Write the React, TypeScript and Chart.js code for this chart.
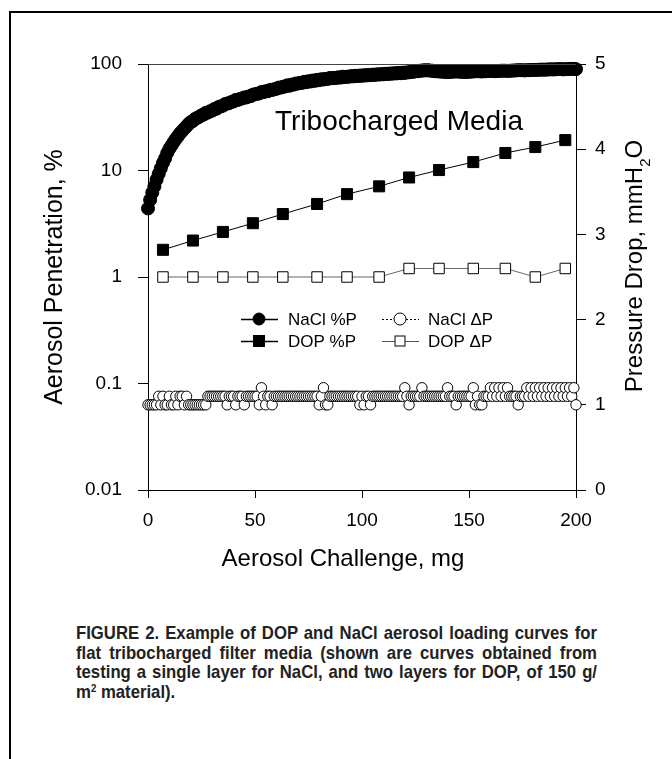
import React, { useEffect, useRef } from "react";
import { Chart, registerables } from "chart.js";

Chart.register(...registerables);

// ---------- DATA ----------
const naclMass = [
  0, 1, 2, 3, 4, 5, 6, 7, 8, 9,
  10, 11, 12, 13, 14, 15, 16, 17, 18, 19,
  20, 21, 22, 23, 24, 25, 26, 27, 28, 29,
  30, 31, 32, 33, 34, 35, 36, 37, 38, 39,
  40, 41, 42, 43, 44, 45, 46, 47, 48, 49,
  50, 51, 52, 53, 54, 55, 56, 57, 58, 59,
  60, 61, 62, 63, 64, 65, 66, 67, 68, 69,
  70, 71, 72, 73, 74, 75, 76, 77, 78, 79,
  80, 81, 82, 83, 84, 85, 86, 87, 88, 89,
  90, 91, 92, 93, 94, 95, 96, 97, 98, 99,
  100, 101, 102, 103, 104, 105, 106, 107, 108, 109,
  110, 111, 112, 113, 114, 115, 116, 117, 118, 119,
  120, 121, 122, 123, 124, 125, 126, 127, 128, 129,
  130, 131, 132, 133, 134, 135, 136, 137, 138, 139,
  140, 141, 142, 143, 144, 145, 146, 147, 148, 149,
  150, 151, 152, 153, 154, 155, 156, 157, 158, 159,
  160, 161, 162, 163, 164, 165, 166, 167, 168, 169,
  170, 171, 172, 173, 174, 175, 176, 177, 178, 179,
  180, 181, 182, 183, 184, 185, 186, 187, 188, 189,
  190, 191, 192, 193, 194, 195, 196, 197, 198, 199,
  200,
];

const naclPenetration = [
  4.4, 5.3, 6.2, 7.1, 8.2, 9.3, 10.5, 11.8, 13, 14.6,
  16, 17.2, 18.5, 19.8, 21, 22.4, 23.5, 24.8, 26, 27.4,
  28.5, 29.2, 30.5, 31.2, 32, 33, 33.5, 34.8, 35, 36,
  36.5, 37.8, 38, 39.5, 40, 40.6, 42, 42.5, 43, 44,
  44.5, 46, 46, 47, 47.5, 48.5, 48.5, 49.5, 50, 51.5,
  52, 52.5, 53, 54.5, 54.5, 55.5, 55.5, 57, 57, 58,
  58.5, 60, 60, 61, 61.5, 63, 62.5, 64, 64, 65.5,
  65.5, 66.5, 66.5, 68, 67.5, 69, 68.5, 70, 69.5, 71,
  70.5, 72, 71.5, 72.5, 72.5, 74, 73.5, 74, 74, 75,
  74.5, 76, 75.5, 76, 76, 77, 76.5, 77.5, 77, 78,
  77.5, 78.5, 78, 79, 78.5, 79.5, 79, 80, 79.5, 80.5,
  80, 81, 80.5, 81.5, 81, 82, 81.5, 82.5, 82, 83,
  82.5, 83.5, 83.5, 84.5, 84.5, 85.5, 85.5, 86.5, 86.5, 87.5,
  87, 87.5, 86.5, 86.5, 85.5, 85.5, 85, 85, 84.5, 84.5,
  84, 84.5, 84.5, 85, 85, 85, 84.5, 84.5, 84, 84.5,
  84.5, 85, 85, 85.5, 85.5, 85.5, 85, 85.5, 85.5, 86,
  86, 86, 85.5, 86, 86, 86.5, 86.5, 86.5, 86, 86.5,
  86.5, 87, 87, 87.5, 87.5, 87.5, 87, 87.5, 87.5, 88,
  88, 88, 88, 88.5, 88.5, 88.5, 88.5, 89, 89, 89,
  89, 89.5, 89.5, 89.5, 89, 89.5, 89.5, 90, 90, 90,
  89.5,
];

const naclPressureDrop = [
  1.0, 1.0, 1.0, 1.0, 1.0, 1.1, 1.0, 1.1, 1.0, 1.0,
  1.1, 1.0, 1.0, 1.1, 1.0, 1.1, 1.1, 1.0, 1.1, 1.0,
  1.0, 1.0, 1.0, 1.0, 1.0, 1.0, 1.0, 1.0, 1.1, 1.1,
  1.1, 1.1, 1.1, 1.1, 1.1, 1.1, 1.1, 1.0, 1.1, 1.1,
  1.1, 1.0, 1.1, 1.1, 1.1, 1.0, 1.1, 1.1, 1.1, 1.1,
  1.1, 1.1, 1.0, 1.2, 1.1, 1.0, 1.1, 1.1, 1.0, 1.1,
  1.1, 1.1, 1.1, 1.1, 1.1, 1.1, 1.1, 1.1, 1.1, 1.1,
  1.1, 1.1, 1.1, 1.1, 1.1, 1.1, 1.1, 1.1, 1.1, 1.1,
  1.0, 1.1, 1.2, 1.0, 1.0, 1.1, 1.1, 1.1, 1.1, 1.1,
  1.1, 1.1, 1.1, 1.1, 1.1, 1.1, 1.1, 1.1, 1.1, 1.0,
  1.1, 1.0, 1.1, 1.1, 1.0, 1.1, 1.1, 1.1, 1.1, 1.1,
  1.1, 1.1, 1.1, 1.1, 1.1, 1.1, 1.1, 1.1, 1.1, 1.1,
  1.2, 1.1, 1.0, 1.1, 1.1, 1.1, 1.1, 1.1, 1.2, 1.1,
  1.1, 1.1, 1.1, 1.1, 1.1, 1.1, 1.1, 1.1, 1.1, 1.1,
  1.2, 1.1, 1.1, 1.1, 1.0, 1.1, 1.1, 1.1, 1.1, 1.1,
  1.1, 1.1, 1.2, 1.0, 1.1, 1.0, 1.0, 1.1, 1.1, 1.1,
  1.2, 1.1, 1.2, 1.1, 1.2, 1.1, 1.2, 1.1, 1.2, 1.1,
  1.1, 1.1, 1.1, 1.0, 1.1, 1.1, 1.1, 1.2, 1.1, 1.2,
  1.1, 1.2, 1.1, 1.2, 1.1, 1.2, 1.1, 1.2, 1.1, 1.2,
  1.1, 1.2, 1.1, 1.2, 1.1, 1.2, 1.1, 1.2, 1.1, 1.2,
  1.0,
];

const dopMass = [7, 21, 35, 49, 63, 79, 93, 108, 122, 136, 152, 167, 181, 195];
const dopPenetration = [1.8, 2.2, 2.65, 3.2, 3.9, 4.85, 6.0, 7.1, 8.6, 10.1, 12.0, 14.6, 16.6, 19.3];
const dopPressureDrop = [2.5, 2.5, 2.5, 2.5, 2.5, 2.5, 2.5, 2.5, 2.6, 2.6, 2.6, 2.6, 2.5, 2.6];

const penetrationTicks = [0.01, 0.1, 1, 10, 100];
const penetrationTickLabels = ["0.01", "0.1", "1", "10", "100"];

const seriesLabels = ["NaCl %P", "DOP %P", "NaCl \u0394P", "DOP \u0394P"];

const xTitle = "Aerosol Challenge, mg";
const yTitle = "Aerosol Penetration, %";
const y2TitleMain = "Pressure Drop, mmH";
const y2TitleSub = "2";
const y2TitleEnd = "O";
const annotation = "Tribocharged Media";

const captionLines = [
  "FIGURE 2. Example of DOP and NaCl aerosol loading curves for",
  "flat tribocharged filter media (shown are curves obtained from",
  "testing a single layer for NaCl, and two layers for DOP, of 150 g/",
];

const FONT = '"Liberation Sans", Arial, Helvetica, sans-serif';

function pairs(xs: number[], ys: number[]) {
  return xs.map((x, i) => ({ x, y: ys[i] }));
}

const textPlugin = {
  id: "figureText",
  afterDraw(chart: any) {
    const ctx = chart.ctx as CanvasRenderingContext2D;
    const area = chart.chartArea;
    ctx.save();
    // top frame line of plot box
    ctx.strokeStyle = "#444";
    ctx.lineWidth = 1;
    ctx.beginPath();
    ctx.moveTo(area.left, area.top + 0.5);
    ctx.lineTo(area.right, area.top + 0.5);
    ctx.stroke();

    ctx.fillStyle = "#000";
    // x title
    ctx.font = `24px ${FONT}`;
    ctx.textAlign = "center";
    ctx.textBaseline = "alphabetic";
    ctx.fillText(xTitle, 343, 566);

    // left y title
    ctx.save();
    ctx.translate(62, 277);
    ctx.rotate(-Math.PI / 2);
    ctx.font = `25px ${FONT}`;
    ctx.textAlign = "center";
    ctx.fillText(yTitle, 0, 0);
    ctx.restore();

    // right y title with subscript
    ctx.save();
    ctx.translate(642, 266);
    ctx.rotate(-Math.PI / 2);
    ctx.textAlign = "left";
    ctx.font = `24px ${FONT}`;
    const wa = ctx.measureText(y2TitleMain).width;
    const wo = ctx.measureText(y2TitleEnd).width;
    ctx.font = `15px ${FONT}`;
    const w2 = ctx.measureText(y2TitleSub).width;
    let x0 = -(wa + w2 + wo) / 2;
    ctx.font = `24px ${FONT}`;
    ctx.fillText(y2TitleMain, x0, 0);
    x0 += wa;
    ctx.font = `15px ${FONT}`;
    ctx.fillText(y2TitleSub, x0, 8);
    x0 += w2;
    ctx.font = `24px ${FONT}`;
    ctx.fillText(y2TitleEnd, x0, 0);
    ctx.restore();

    // annotation
    ctx.font = `28px ${FONT}`;
    ctx.textAlign = "left";
    ctx.fillText(annotation, 275, 130);

    // legend
    const rows = [319, 341];
    const cols = [
      { x1: 241, x2: 278, m: 259, t: 288 },
      { x1: 382, x2: 419, m: 400, t: 428 },
    ];
    const items = [
      { label: seriesLabels[0], col: 0, row: 0, kind: "fcircle" },
      { label: seriesLabels[2], col: 1, row: 0, kind: "ocircle" },
      { label: seriesLabels[1], col: 0, row: 1, kind: "frect" },
      { label: seriesLabels[3], col: 1, row: 1, kind: "orect" },
    ];
    for (const it of items) {
      const c = cols[it.col];
      const y = rows[it.row];
      ctx.save();
      ctx.strokeStyle = it.kind === "orect" ? "#555" : "#000";
      ctx.lineWidth = it.kind === "fcircle" || it.kind === "frect" ? 1.5 : 1;
      if (it.kind === "ocircle") ctx.setLineDash([2, 2]);
      ctx.beginPath();
      ctx.moveTo(c.x1, y + 0.5);
      ctx.lineTo(c.x2, y + 0.5);
      ctx.stroke();
      ctx.restore();
      ctx.save();
      ctx.lineWidth = 1;
      ctx.strokeStyle = "#000";
      if (it.kind === "fcircle" || it.kind === "ocircle") {
        ctx.beginPath();
        ctx.arc(c.m, y, 6, 0, Math.PI * 2);
        ctx.fillStyle = it.kind === "fcircle" ? "#000" : "#fff";
        ctx.fill();
        ctx.stroke();
      } else {
        const s = it.kind === "frect" ? 12 : 11;
        ctx.fillStyle = it.kind === "frect" ? "#000" : "#fff";
        ctx.fillRect(c.m - s / 2, y - s / 2, s, s);
        ctx.strokeRect(c.m - s / 2 + 0.5, y - s / 2 + 0.5, s - 1, s - 1);
      }
      ctx.restore();
      ctx.font = `17px ${FONT}`;
      ctx.textAlign = "left";
      ctx.textBaseline = "middle";
      ctx.fillStyle = "#000";
      ctx.fillText(it.label, c.t, y + 1);
    }
    ctx.restore();
  },
};

export default function App() {
  const canvasRef = useRef<HTMLCanvasElement | null>(null);

  useEffect(() => {
    document.body.style.overflow = "hidden";
    const canvas = canvasRef.current;
    if (!canvas) return;
    Chart.defaults.font.family = FONT;
    Chart.defaults.color = "#000";

    const chart = new Chart(canvas, {
      type: "line",
      data: {
        datasets: [
          {
            label: seriesLabels[0],
            data: pairs(naclMass, naclPenetration),
            yAxisID: "y",
            borderColor: "#000",
            borderWidth: 1,
            backgroundColor: "#000",
            pointStyle: "circle",
            pointRadius: 6.5,
            pointBackgroundColor: "#000",
            pointBorderColor: "#000",
            pointBorderWidth: 1,
            clip: false,
            order: 1,
          } as any,
          {
            label: seriesLabels[1],
            data: pairs(dopMass, dopPenetration),
            yAxisID: "y",
            borderColor: "#000",
            borderWidth: 1,
            pointStyle: "rect",
            pointRadius: 7.8,
            pointBackgroundColor: "#000",
            pointBorderColor: "#000",
            pointBorderWidth: 1,
            clip: false,
            order: 2,
          } as any,
          {
            label: seriesLabels[2],
            data: pairs(naclMass, naclPressureDrop),
            yAxisID: "y2",
            borderColor: "#000",
            borderWidth: 1,
            borderDash: [2, 2],
            pointStyle: "circle",
            pointRadius: 5.2,
            pointBackgroundColor: "#fff",
            pointBorderColor: "#000",
            pointBorderWidth: 1,
            clip: false,
            order: 3,
          } as any,
          {
            label: seriesLabels[3],
            data: pairs(dopMass, dopPressureDrop),
            yAxisID: "y2",
            borderColor: "#666",
            borderWidth: 1,
            pointStyle: "rect",
            pointRadius: 7.4,
            pointBackgroundColor: "#fff",
            pointBorderColor: "#000",
            pointBorderWidth: 1,
            clip: false,
            order: 4,
          } as any,
        ],
      },
      options: {
        animation: false,
        responsive: false,
        devicePixelRatio: 1,
        events: [],
        layout: { padding: { left: 0, right: 0, top: 64, bottom: 0 } },
        plugins: {
          legend: { display: false },
          tooltip: { enabled: false },
          title: { display: false },
        },
        scales: {
          x: {
            type: "linear",
            position: "bottom",
            min: 0,
            max: 200,
            ticks: { stepSize: 50, padding: 11, font: { size: 19 }, color: "#000" },
            grid: { drawOnChartArea: false, drawTicks: true, tickLength: 8, color: "#000" },
            border: { display: true, color: "#000", width: 1 },
            afterFit: (s: any) => {
              s.height = 110;
            },
          },
          y: {
            type: "logarithmic",
            position: "left",
            min: 0.01,
            max: 100,
            afterBuildTicks: (s: any) => {
              s.ticks = penetrationTicks.map((v) => ({ value: v }));
            },
            ticks: {
              padding: 16,
              font: { size: 19 },
              color: "#000",
              callback: (v: any) => {
                const i = penetrationTicks.findIndex((t) => Math.abs(t - Number(v)) < t * 1e-6);
                return i >= 0 ? penetrationTickLabels[i] : "";
              },
            },
            grid: { drawOnChartArea: false, drawTicks: true, tickLength: 10, color: "#000" },
            border: { display: true, color: "#000", width: 1 },
            afterFit: (s: any) => {
              s.width = 148;
            },
          },
          y2: {
            type: "linear",
            position: "right",
            min: 0,
            max: 5,
            ticks: { stepSize: 1, padding: 9, font: { size: 19 }, color: "#000" },
            grid: { drawOnChartArea: false, drawTicks: true, tickLength: 10, color: "#000" },
            border: { display: true, color: "#000", width: 1 },
            afterFit: (s: any) => {
              s.width = 96;
            },
          },
        },
      } as any,
      plugins: [textPlugin],
    });
    return () => chart.destroy();
  }, []);

  const SCALE = 0.88;
  const captionFont = '"Liberation Sans", Arial, sans-serif';
  const lineStyle: React.CSSProperties = {
    width: 521 / SCALE,
    textAlign: "justify",
    textAlignLast: "justify" as any,
    whiteSpace: "nowrap",
    height: "19.6px",
    transform: `scaleX(${SCALE})`,
    transformOrigin: "0 0",
  };

  return (
    <div>
      <div
        style={{
          position: "absolute",
          left: 9,
          top: 11,
          width: 663,
          height: 748,
          borderLeft: "2px solid #000",
          borderTop: "2px solid #000",
          boxSizing: "border-box",
        }}
      />
      <canvas
        ref={canvasRef}
        width={672}
        height={600}
        style={{ position: "absolute", left: 0, top: 0, display: "block", width: 672, height: 600 }}
      />
      <div
        style={{
          position: "absolute",
          left: 76,
          top: 623,
          width: 521,
          fontFamily: captionFont,
          fontWeight: "bold",
          fontSize: 19,
          lineHeight: "19.6px",
          color: "#222",
        }}
      >
        {captionLines.map((l, i) => (
          <div key={i} style={lineStyle}>
            {l}
          </div>
        ))}
        <div style={{ ...lineStyle, textAlign: "left", textAlignLast: "left" as any }}>
          m<sup style={{ fontSize: 11, verticalAlign: "6px", lineHeight: 0 }}>2</sup> material).
        </div>
      </div>
    </div>
  );
}
